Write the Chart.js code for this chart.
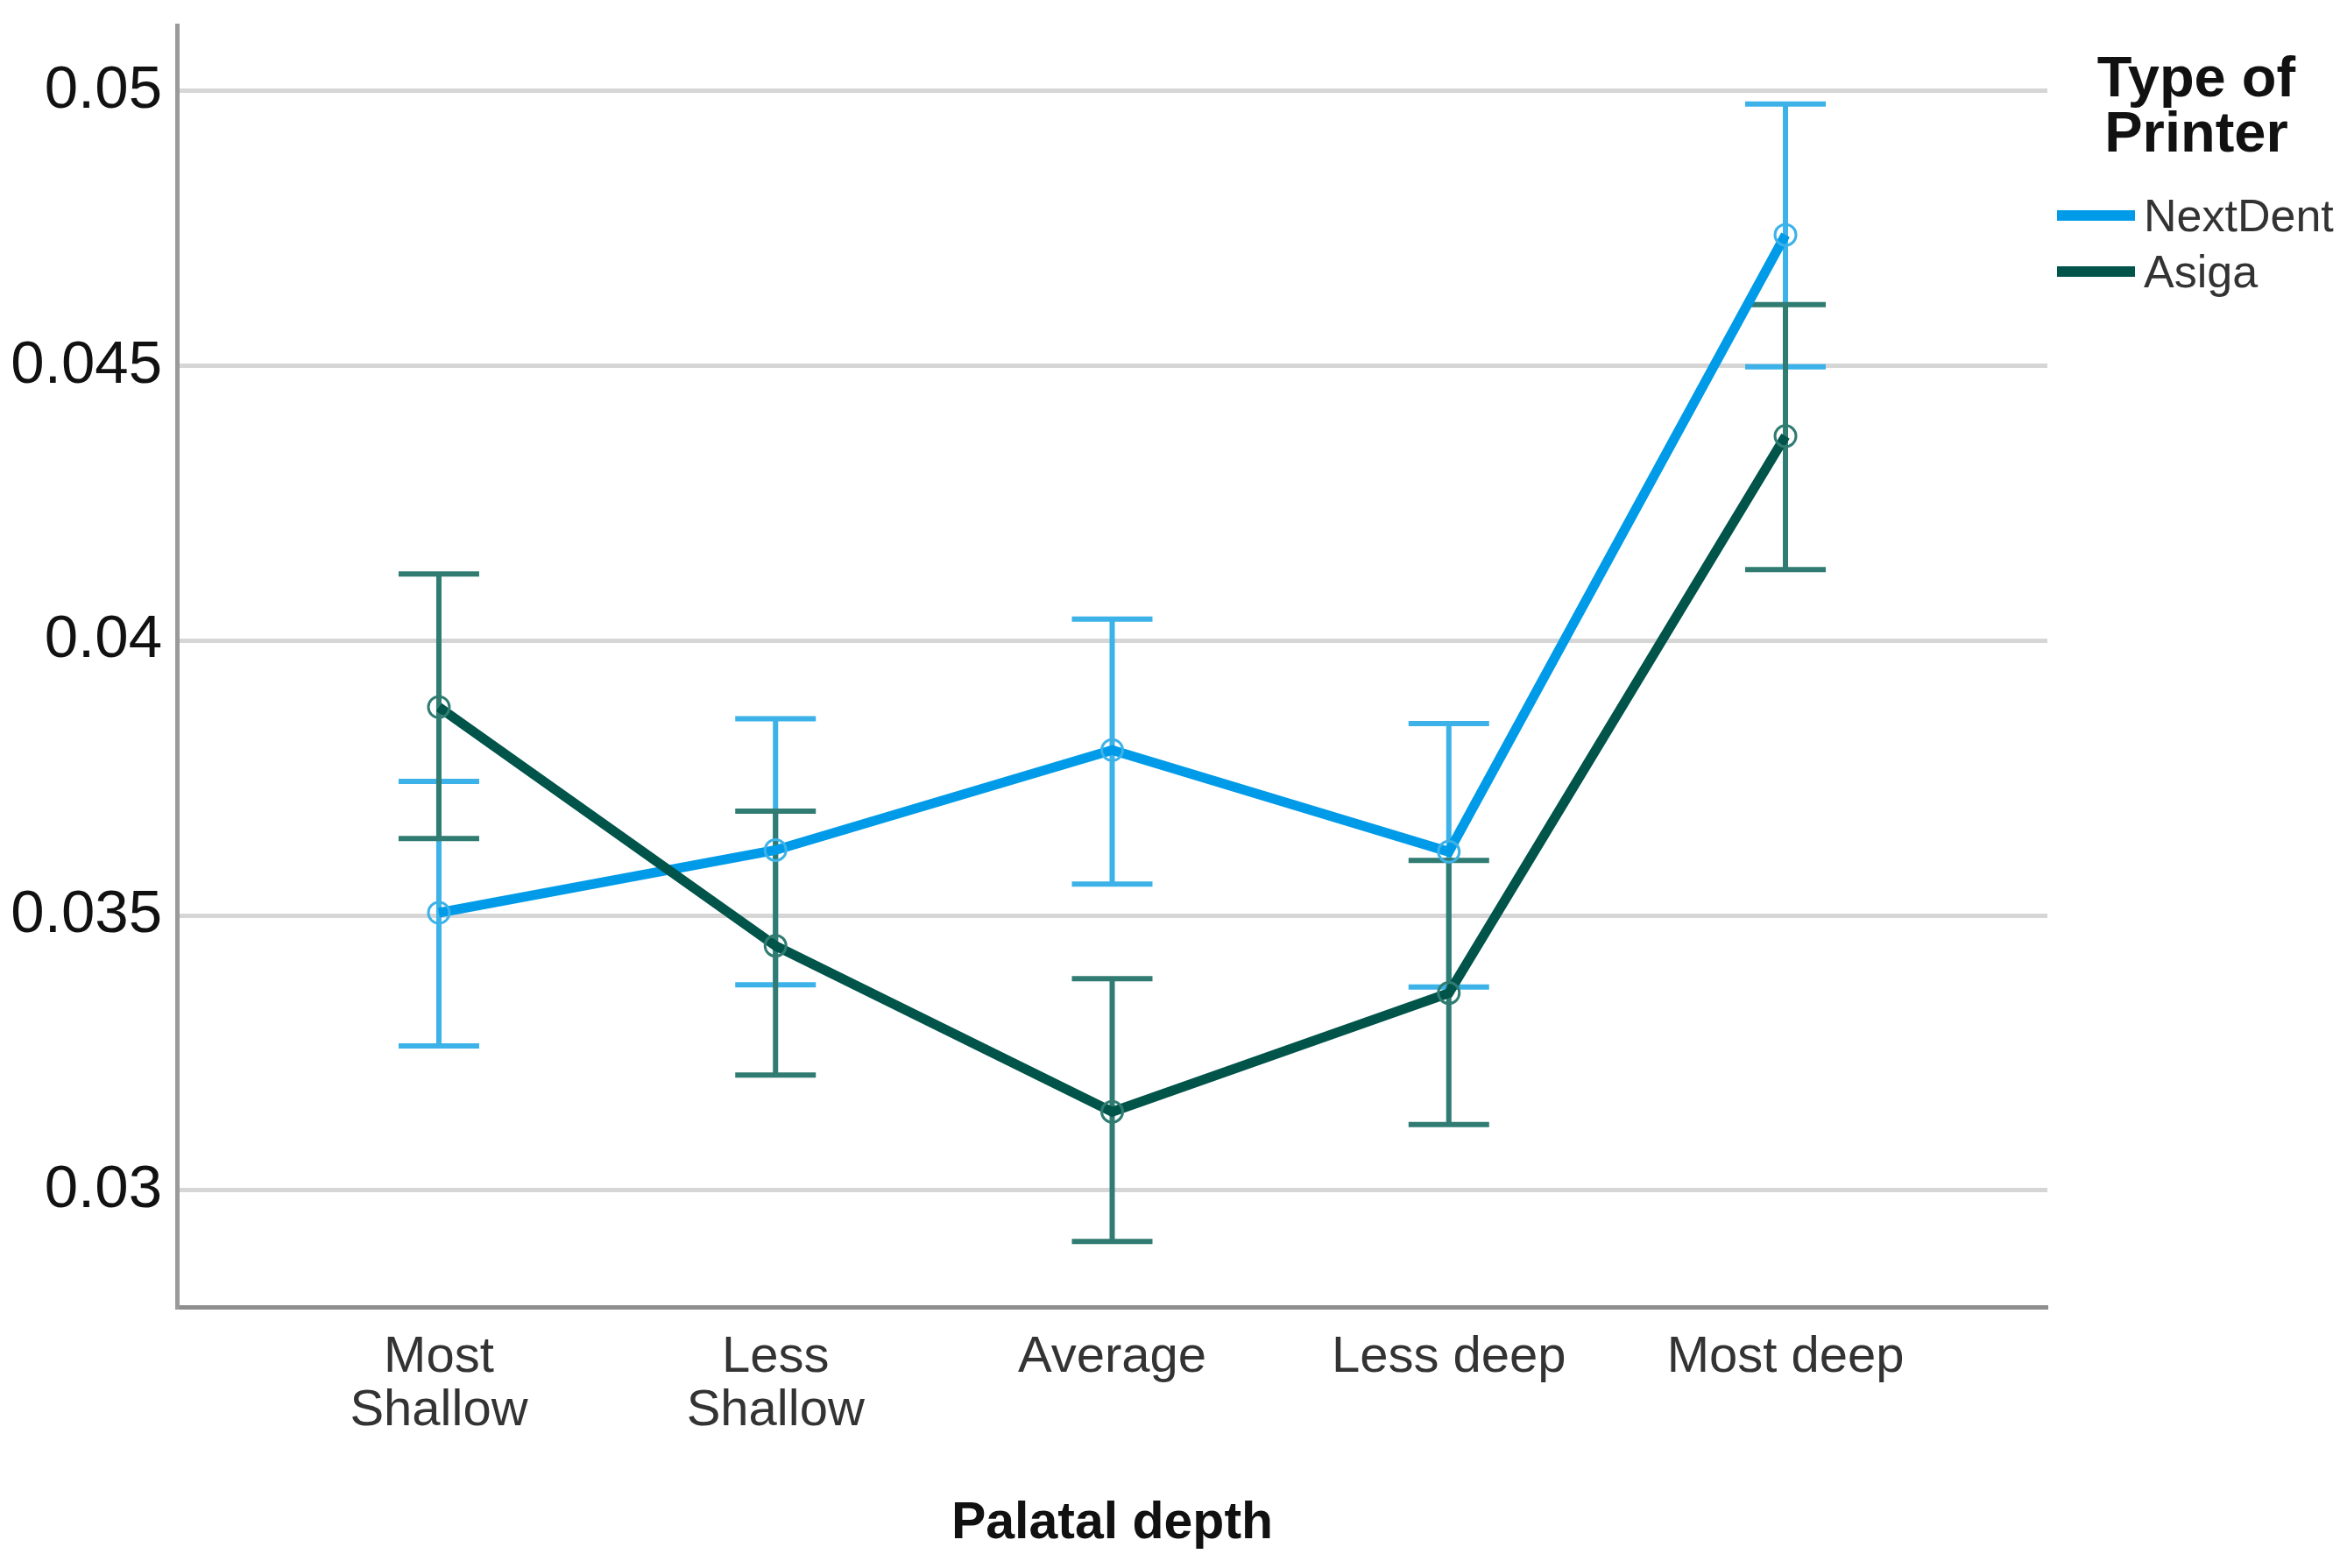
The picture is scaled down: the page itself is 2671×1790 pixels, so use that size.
<!DOCTYPE html>
<html>
<head>
<meta charset="utf-8">
<script src="https://cdn.jsdelivr.net/npm/chart.js@4"></script>
<style>
  body { margin: 0; background: #fff; }
  canvas { display: block; }
</style>
</head>
<body>
<canvas id="chart" width="2671" height="1790" style="width:2671px;height:1790px"></canvas>
<script>
// categories (multi-line labels as in the figure)
const categories = [["Most", "Shallow"], ["Less", "Shallow"], "Average", "Less deep", "Most deep"];
const yTicks = [0.03, 0.035, 0.04, 0.045, 0.05];

// NextDent: mean and 95% CI bounds
const nextDentMean = [0.03505, 0.03619, 0.03801, 0.03616, 0.04738];
const nextDentLow  = [0.03263, 0.03374, 0.03557, 0.03370, 0.04498];
const nextDentHigh = [0.03744, 0.03858, 0.04039, 0.03849, 0.04976];

// Asiga
const asigaMean = [0.03879, 0.03445, 0.03143, 0.03359, 0.04372];
const asigaLow  = [0.03640, 0.03210, 0.02907, 0.03120, 0.04129];
const asigaHigh = [0.04121, 0.03690, 0.03385, 0.03600, 0.04611];

const seriesNames = ["NextDent", "Asiga"];

const blue = "rgb(0,155,232)";
const blueBar = "rgb(60,178,232)";
const teal = "rgb(0,84,74)";
const tealBar = "rgb(48,124,114)";
const font = "'Liberation Sans', Arial, sans-serif";

const toPoints = (arr) => arr.map((v, i) => ({ x: i, y: v }));

// draws the error bars under the lines
const errorBars = {
  id: "errorBars",
  beforeDatasetsDraw(chart) {
    const { ctx, scales: { x, y } } = chart;
    const groups = [
      { low: nextDentLow, high: nextDentHigh, color: blueBar },
      { low: asigaLow, high: asigaHigh, color: tealBar }
    ];
    const cap = 46;
    ctx.save();
    groups.forEach(g => {
      ctx.strokeStyle = g.color;
      ctx.lineWidth = 6;
      g.low.forEach((lo, i) => {
        const px = x.getPixelForValue(i);
        const yl = y.getPixelForValue(lo);
        const yh = y.getPixelForValue(g.high[i]);
        ctx.beginPath();
        ctx.moveTo(px, yh); ctx.lineTo(px, yl);
        ctx.moveTo(px - cap, yh); ctx.lineTo(px + cap, yh);
        ctx.moveTo(px - cap, yl); ctx.lineTo(px + cap, yl);
        ctx.stroke();
      });
    });
    ctx.restore();
  }
};

// legend on the right, SPSS style
const sideLegend = {
  id: "sideLegend",
  afterDraw(chart) {
    const { ctx, chartArea } = chart;
    const left = chartArea.right;
    ctx.save();
    ctx.fillStyle = "#111";
    ctx.textAlign = "center";
    ctx.textBaseline = "middle";
    ctx.font = "bold 65px " + font;
    ctx.fillText("Type of", left + 170, 92);
    ctx.fillText("Printer", left + 170, 155);
    const colors = [blue, teal];
    const rows = [246, 310];
    ctx.font = "52px " + font;
    ctx.textAlign = "left";
    seriesNames.forEach((name, i) => {
      ctx.strokeStyle = colors[i];
      ctx.lineWidth = 12;
      ctx.beginPath();
      ctx.moveTo(left + 11, rows[i]);
      ctx.lineTo(left + 100, rows[i]);
      ctx.stroke();
      ctx.fillStyle = "#333";
      ctx.fillText(name, left + 110, rows[i] + 4);
    });
    ctx.restore();
  }
};

new Chart(document.getElementById("chart"), {
  type: "line",
  data: {
    datasets: [
      {
        label: seriesNames[0],
        data: toPoints(nextDentMean),
        borderColor: blue,
        borderWidth: 11,
        pointRadius: 12,
        pointBorderWidth: 3,
        pointBackgroundColor: "rgba(0,0,0,0)",
        pointBorderColor: blueBar,
        order: 1
      },
      {
        label: seriesNames[1],
        data: toPoints(asigaMean),
        borderColor: teal,
        borderWidth: 11,
        pointRadius: 12,
        pointBorderWidth: 3,
        pointBackgroundColor: "rgba(0,0,0,0)",
        pointBorderColor: tealBar,
        order: 0
      }
    ]
  },
  options: {
    responsive: false,
    devicePixelRatio: 1,
    animation: false,
    layout: { padding: { top: 29, right: 334, left: 0, bottom: 0 } },
    plugins: {
      legend: { display: false },
      tooltip: { enabled: false }
    },
    scales: {
      x: {
        type: "linear",
        min: -0.778,
        max: 4.778,
        afterBuildTicks: (s) => { s.ticks = categories.map((c, i) => ({ value: i })); },
        afterFit: (s) => { s.height = 298; s.paddingLeft = 0; s.paddingRight = 0; },
        grid: { display: false, drawTicks: false },
        border: { display: true, color: "#8e8e8e", width: 5 },
        ticks: {
          padding: 28,
          color: "#333",
          font: { family: font, size: 58, lineHeight: 1.05 },
          maxRotation: 0,
          autoSkip: false,
          callback: (v) => categories[v]
        },
        title: {
          display: true,
          text: "Palatal depth",
          color: "#111",
          font: { family: font, size: 59, weight: "bold", lineHeight: 1.2 },
          padding: { top: 0, bottom: 15 }
        }
      },
      y: {
        min: 0.02788,
        max: 0.05119,
        afterBuildTicks: (s) => { s.ticks = yTicks.map(v => ({ value: v })); },
        afterFit: (s) => { s.width = 202; s.paddingTop = 0; s.paddingBottom = 0; },
        grid: { color: "#d6d6d6", lineWidth: 5, drawTicks: false },
        border: { display: true, color: "#9a9a9a", width: 5 },
        ticks: {
          padding: 17,
          color: "#111",
          font: { family: font, size: 69 },
          callback: (v) => String(v)
        }
      }
    }
  },
  plugins: [errorBars, sideLegend]
});
</script>
</body>
</html>
